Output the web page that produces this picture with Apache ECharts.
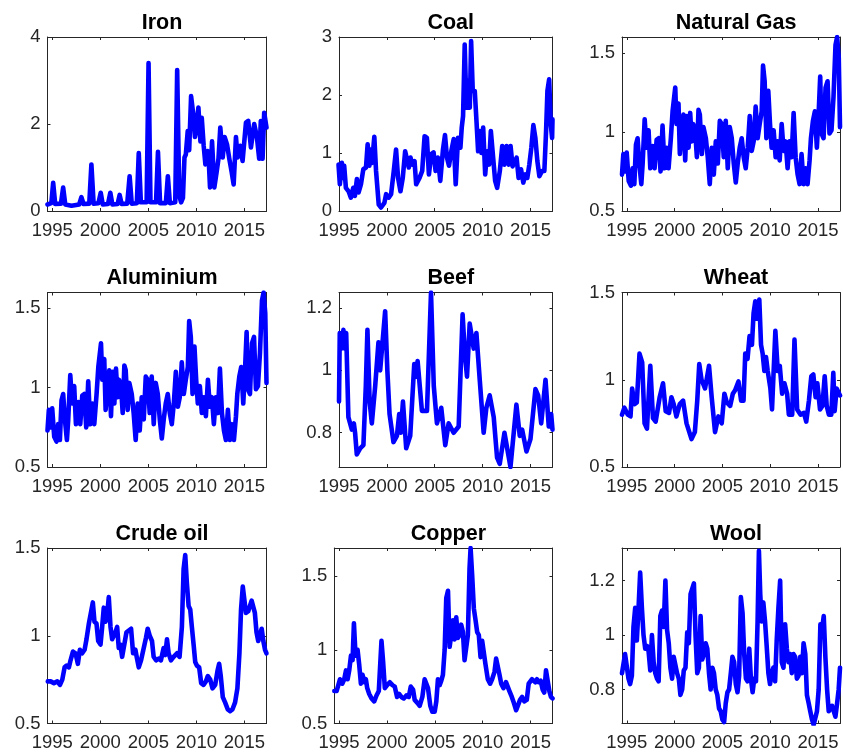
<!DOCTYPE html>
<html>
<head>
<meta charset="utf-8">
<script src="https://cdn.jsdelivr.net/npm/echarts@6.0.0/dist/echarts.min.js"></script>
<style>html,body{margin:0;padding:0;background:#fff;}#c{width:843px;height:754px;}</style>
</head>
<body>
<div id="c"></div>
<script>
// ---- data (decimal year, value) ----
const titles = ['Iron','Coal','Natural Gas','Aluminium','Beef','Wheat','Crude oil','Copper','Wool'];
const xTicks = [1995, 2000, 2005, 2010, 2015];
const yTicks = [[0,2,4],[0,1,2,3],[0.5,1,1.5],[0.5,1,1.5],[0.8,1,1.2],[0.5,1,1.5],[0.5,1,1.5],[0.5,1,1.5],[0.8,1,1.2]];
const yRanges = [[0,4],[0,3],[0.5,1.6],[0.5,1.6],[0.69,1.25],[0.5,1.5],[0.5,1.5],[0.5,1.69],[0.675,1.32]];
const xRanges = [[1994.5,2017.3],[1995.0,2017.3],[1994.5,2017.3],[1994.5,2017.3],[1995.0,2017.3],[1994.5,2017.3],[1994.5,2017.3],[1994.5,2017.3],[1994.5,2017.3]];

const iron = [[1994.5,0.15],[1994.9,0.18],[1995.09,0.65],[1995.3,0.16],[1995.9,0.17],[1996.13,0.54],[1996.35,0.15],[1997.0,0.12],[1997.8,0.15],[1998.03,0.32],[1998.25,0.16],[1998.85,0.17],[1999.07,1.07],[1999.3,0.17],[1999.8,0.18],[2000.04,0.42],[2000.25,0.15],[2000.8,0.16],[2001.04,0.42],[2001.25,0.15],[2001.8,0.16],[2002.01,0.37],[2002.22,0.16],[2002.8,0.17],[2003.05,0.8],[2003.27,0.17],[2003.8,0.18],[2004.0,1.33],[2004.22,0.2],[2004.82,0.2],[2005.02,3.4],[2005.22,0.2],[2005.8,0.2],[2006.0,1.36],[2006.22,0.18],[2006.82,0.18],[2007.03,0.8],[2007.24,0.18],[2007.8,0.2],[2008.0,3.24],[2008.22,0.35],[2008.41,0.2],[2008.6,0.3],[2008.76,1.23],[2008.9,1.3],[2009.1,1.84],[2009.25,1.4],[2009.45,2.64],[2009.69,2.2],[2009.85,1.7],[2009.97,1.84],[2010.21,2.38],[2010.42,1.6],[2010.56,2.14],[2010.76,1.5],[2010.94,1.07],[2011.18,1.38],[2011.3,1.1],[2011.42,0.54],[2011.63,1.6],[2011.87,0.54],[2012.11,0.9],[2012.3,1.2],[2012.49,1.92],[2012.74,1.23],[2012.94,1.7],[2013.19,1.53],[2013.43,1.2],[2013.67,0.9],[2013.88,0.61],[2014.12,1.7],[2014.29,1.23],[2014.57,1.5],[2014.81,1.15],[2015.16,2.03],[2015.4,2.07],[2015.68,1.46],[2016.02,2.0],[2016.3,1.7],[2016.54,1.2],[2016.71,2.07],[2016.89,1.2],[2017.06,2.26],[2017.3,1.92]];

const coal = [[1994.95,0.80],[1995.09,0.46],[1995.30,0.83],[1995.44,0.57],[1995.54,0.78],[1995.72,0.40],[1996.0,0.34],[1996.24,0.23],[1996.49,0.40],[1996.66,0.26],[1996.87,0.55],[1997.05,0.32],[1997.29,0.46],[1997.54,0.72],[1997.82,0.75],[1997.99,1.15],[1998.17,0.78],[1998.27,1.06],[1998.45,0.83],[1998.69,1.28],[1998.87,0.69],[1999.15,0.11],[1999.39,0.06],[1999.74,0.14],[1999.92,0.29],[2000.19,0.23],[2000.44,0.29],[2000.72,0.69],[2000.96,1.06],[2001.17,0.57],[2001.42,0.34],[2001.66,0.57],[2001.91,1.03],[2002.08,1.03],[2002.29,0.75],[2002.47,0.92],[2002.64,0.80],[2002.89,0.86],[2003.06,0.46],[2003.41,0.57],[2003.69,0.69],[2003.94,1.29],[2004.18,1.26],[2004.39,0.63],[2004.64,0.98],[2004.88,1.01],[2005.09,0.69],[2005.33,0.92],[2005.58,0.52],[2005.86,1.06],[2006.07,1.31],[2006.28,0.92],[2006.49,0.78],[2006.73,1.03],[2006.98,1.24],[2007.19,0.46],[2007.43,1.26],[2007.68,1.09],[2007.82,1.44],[2007.96,1.64],[2008.13,2.87],[2008.31,1.78],[2008.48,2.24],[2008.66,1.78],[2008.80,2.93],[2008.97,2.07],[2009.18,2.07],[2009.36,1.55],[2009.53,1.03],[2009.71,1.38],[2009.88,1.0],[2010.06,1.44],[2010.27,0.63],[2010.47,1.03],[2010.68,0.80],[2010.86,1.38],[2011.10,0.92],[2011.31,0.52],[2011.52,0.40],[2011.80,0.69],[2012.05,1.12],[2012.26,0.80],[2012.50,1.12],[2012.71,0.80],[2012.92,1.12],[2013.13,0.77],[2013.31,0.80],[2013.55,0.92],[2013.76,0.57],[2014.01,0.72],[2014.25,0.49],[2014.46,0.63],[2014.67,0.57],[2014.88,0.80],[2015.09,1.09],[2015.30,1.48],[2015.51,1.26],[2015.72,0.86],[2015.93,0.60],[2016.21,0.69],[2016.45,0.69],[2016.63,1.38],[2016.77,2.07],[2016.95,2.27],[2017.12,1.49],[2017.26,1.26],[2017.3,1.58]];

const naturalGas = [[1994.50,0.73],[1994.64,0.86],[1994.85,0.75],[1994.99,0.87],[1995.20,0.69],[1995.44,0.66],[1995.61,0.77],[1995.79,0.67],[1995.96,0.92],[1996.13,0.96],[1996.31,0.80],[1996.52,0.67],[1996.66,0.80],[1996.87,1.08],[1997.07,0.90],[1997.28,1.01],[1997.46,0.77],[1997.70,0.91],[1997.91,0.77],[1998.12,0.95],[1998.33,0.96],[1998.53,0.75],[1998.74,1.04],[1998.95,0.77],[1999.16,0.90],[1999.37,0.77],[1999.61,0.96],[1999.79,1.13],[2000.07,1.28],[2000.20,1.05],[2000.41,1.18],[2000.55,0.86],[2000.76,1.01],[2000.93,1.11],[2001.11,0.82],[2001.28,1.10],[2001.46,0.90],[2001.63,1.12],[2001.80,0.94],[2001.94,1.05],[2002.15,1.01],[2002.33,0.84],[2002.50,1.14],[2002.64,1.11],[2002.85,0.86],[2003.02,1.03],[2003.27,0.96],[2003.47,0.84],[2003.68,0.67],[2003.89,0.90],[2004.10,0.73],[2004.31,0.94],[2004.52,0.80],[2004.73,1.07],[2004.93,1.05],[2005.14,0.84],[2005.35,1.07],[2005.56,0.77],[2005.77,1.03],[2005.98,0.96],[2006.19,0.80],[2006.40,0.68],[2006.60,0.80],[2006.81,0.90],[2007.02,0.96],[2007.23,0.84],[2007.44,0.77],[2007.65,0.90],[2007.86,1.10],[2008.07,0.88],[2008.27,0.94],[2008.48,1.16],[2008.69,0.96],[2008.90,1.05],[2009.11,1.13],[2009.25,1.42],[2009.42,1.32],[2009.60,0.96],[2009.80,1.26],[2009.98,1.05],[2010.15,0.90],[2010.36,1.01],[2010.57,0.84],[2010.78,0.94],[2010.99,0.82],[2011.20,1.05],[2011.40,0.88],[2011.61,0.94],[2011.82,0.77],[2012.03,0.94],[2012.24,0.84],[2012.45,1.12],[2012.66,0.84],[2012.87,0.73],[2013.07,0.67],[2013.28,0.86],[2013.49,0.67],[2013.70,0.77],[2013.91,0.67],[2014.12,0.82],[2014.26,0.96],[2014.47,1.07],[2014.67,1.13],[2014.88,0.90],[2015.09,1.15],[2015.23,1.35],[2015.37,0.99],[2015.58,0.96],[2015.79,1.28],[2016.00,1.32],[2016.20,0.99],[2016.41,1.01],[2016.62,1.22],[2016.83,1.55],[2017.00,1.60],[2017.17,1.47],[2017.3,1.03]];

const aluminium = [[1994.50,0.73],[1994.64,0.86],[1994.85,0.75],[1994.99,0.87],[1995.20,0.69],[1995.44,0.66],[1995.61,0.77],[1995.79,0.67],[1995.96,0.92],[1996.13,0.96],[1996.31,0.80],[1996.52,0.67],[1996.66,0.80],[1996.87,1.08],[1997.07,0.90],[1997.28,1.01],[1997.46,0.77],[1997.70,0.91],[1997.91,0.77],[1998.12,0.95],[1998.33,0.96],[1998.53,0.75],[1998.74,1.04],[1998.95,0.77],[1999.16,0.90],[1999.37,0.77],[1999.61,0.96],[1999.79,1.13],[2000.07,1.28],[2000.20,1.05],[2000.41,1.18],[2000.55,0.86],[2000.76,1.01],[2000.93,1.11],[2001.11,0.82],[2001.28,1.10],[2001.46,0.90],[2001.63,1.12],[2001.80,0.94],[2001.94,1.05],[2002.15,1.01],[2002.33,0.84],[2002.50,1.14],[2002.64,1.11],[2002.85,0.86],[2003.02,1.03],[2003.27,0.96],[2003.47,0.84],[2003.68,0.67],[2003.89,0.90],[2004.10,0.73],[2004.31,0.94],[2004.52,0.80],[2004.73,1.07],[2004.93,1.05],[2005.14,0.84],[2005.35,1.07],[2005.56,0.77],[2005.77,1.03],[2005.98,0.96],[2006.19,0.80],[2006.40,0.68],[2006.60,0.80],[2006.81,0.90],[2007.02,0.96],[2007.23,0.84],[2007.44,0.77],[2007.65,0.90],[2007.86,1.10],[2008.07,0.88],[2008.27,0.94],[2008.48,1.16],[2008.69,0.96],[2008.90,1.05],[2009.11,1.13],[2009.25,1.42],[2009.42,1.32],[2009.60,0.96],[2009.80,1.26],[2009.98,1.05],[2010.15,0.90],[2010.36,1.01],[2010.57,0.84],[2010.78,0.94],[2010.99,0.82],[2011.20,1.05],[2011.40,0.88],[2011.61,0.94],[2011.82,0.77],[2012.03,0.94],[2012.24,0.84],[2012.45,1.12],[2012.66,0.84],[2012.87,0.73],[2013.07,0.67],[2013.28,0.86],[2013.49,0.67],[2013.70,0.77],[2013.91,0.67],[2014.12,0.82],[2014.26,0.96],[2014.47,1.07],[2014.67,1.13],[2014.88,0.90],[2015.09,1.15],[2015.23,1.35],[2015.37,0.99],[2015.58,0.96],[2015.79,1.28],[2016.00,1.32],[2016.20,0.99],[2016.41,1.01],[2016.62,1.22],[2016.83,1.55],[2017.00,1.60],[2017.17,1.47],[2017.3,1.03]];

const beef = [[1995.00,0.90],[1995.08,1.12],[1995.25,1.07],[1995.46,1.13],[1995.6,1.07],[1995.75,1.12],[1995.98,0.85],[1996.34,0.81],[1996.55,0.83],[1996.68,0.80],[1996.86,0.73],[1997.21,0.75],[1997.55,0.76],[1997.8,0.95],[1997.97,1.13],[1998.2,0.90],[1998.43,0.83],[1998.78,0.95],[1999.12,1.09],[1999.3,1.0],[1999.48,1.00],[1999.82,1.19],[2000.05,1.0],[2000.28,0.86],[2000.69,0.77],[2001.05,0.79],[2001.29,0.86],[2001.45,0.80],[2001.68,0.90],[2002.02,0.75],[2002.44,0.79],[2002.86,1.02],[2003.0,0.98],[2003.21,1.03],[2003.66,0.87],[2004.19,0.87],[2004.61,1.25],[2004.9,0.95],[2005.23,0.83],[2005.68,0.88],[2006.10,0.76],[2006.45,0.83],[2006.97,0.80],[2007.50,0.82],[2007.91,1.18],[2008.15,1.05],[2008.37,0.98],[2008.65,1.15],[2009.07,1.07],[2009.35,1.12],[2009.70,0.97],[2010.11,0.80],[2010.39,0.88],[2010.74,0.92],[2011.16,0.85],[2011.51,0.72],[2011.79,0.70],[2012.28,0.80],[2012.91,0.69],[2013.53,0.89],[2013.88,0.79],[2014.13,0.81],[2014.58,0.74],[2015.0,0.78],[2015.52,0.94],[2015.8,0.92],[2016.12,0.83],[2016.57,0.97],[2016.91,0.82],[2017.16,0.86],[2017.3,0.81]];

const wheat = [[1994.5,0.80],[1994.75,0.84],[1995.11,0.80],[1995.39,0.79],[1995.56,0.95],[1995.81,0.86],[1996.05,0.87],[1996.33,1.15],[1996.61,1.10],[1996.86,0.75],[1997.11,0.72],[1997.46,1.08],[1997.74,0.78],[1998.02,0.76],[1998.44,0.90],[1998.79,0.98],[1999.07,0.82],[1999.42,0.81],[1999.67,0.90],[1999.91,0.86],[2000.19,0.79],[2000.54,0.86],[2000.89,0.88],[2001.25,0.75],[2001.77,0.66],[2002.12,0.70],[2002.37,0.88],[2002.58,1.09],[2002.82,1.00],[2003.18,0.95],[2003.35,1.00],[2003.60,1.08],[2003.88,0.90],[2004.23,0.70],[2004.58,0.79],[2004.93,0.75],[2005.21,0.92],[2005.46,0.87],[2005.81,0.85],[2006.09,0.92],[2006.33,0.94],[2006.68,0.99],[2006.96,0.88],[2007.21,0.88],[2007.39,1.15],[2007.63,1.12],[2007.84,1.25],[2008.09,1.20],[2008.26,1.38],[2008.44,1.45],[2008.61,1.35],[2008.86,1.46],[2009.04,1.20],[2009.21,1.15],[2009.39,1.05],[2009.56,1.13],[2009.74,1.05],[2010.02,0.95],[2010.19,0.83],[2010.54,1.28],[2010.79,1.05],[2011.00,1.08],[2011.25,0.92],[2011.49,0.98],[2011.77,0.92],[2011.95,0.80],[2012.30,0.80],[2012.54,1.23],[2012.82,0.83],[2013.18,0.80],[2013.53,0.81],[2013.77,0.76],[2014.05,0.88],[2014.30,1.02],[2014.51,1.03],[2014.75,0.90],[2014.93,0.98],[2015.21,0.83],[2015.46,0.85],[2015.70,1.02],[2015.91,0.85],[2016.14,0.80],[2016.39,0.80],[2016.60,1.04],[2016.74,0.82],[2016.95,0.95],[2017.21,0.92],[2017.30,0.91]];

const crudeOil = [[1994.53,0.74],[1994.83,0.74],[1995.0,0.75],[1995.17,0.73],[1995.52,0.74],[1995.80,0.72],[1996.04,0.75],[1996.28,0.82],[1996.49,0.83],[1996.73,0.82],[1996.90,0.86],[1997.15,0.91],[1997.42,0.90],[1997.66,0.84],[1997.87,0.92],[1998.11,0.90],[1998.36,0.92],[1998.56,0.98],[1998.81,1.07],[1999.05,1.14],[1999.22,1.19],[1999.39,1.08],[1999.60,1.07],[1999.78,0.97],[2000.02,0.95],[2000.19,1.05],[2000.36,1.16],[2000.54,1.08],[2000.71,1.12],[2000.88,1.22],[2001.06,1.05],[2001.23,0.98],[2001.40,0.98],[2001.57,1.02],[2001.75,1.05],[2001.92,0.93],[2002.09,0.95],[2002.27,0.88],[2002.44,0.88],[2002.72,1.02],[2002.96,1.03],[2003.20,1.04],[2003.41,0.90],[2003.65,0.92],[2003.82,0.87],[2004.00,0.82],[2004.24,0.86],[2004.52,0.93],[2004.76,0.99],[2004.93,1.04],[2005.14,1.00],[2005.38,0.97],[2005.55,0.88],[2005.80,0.86],[2006.07,0.87],[2006.31,0.86],[2006.59,0.93],[2006.76,0.89],[2006.94,0.98],[2007.11,0.90],[2007.35,0.86],[2007.63,0.88],[2007.98,0.90],[2008.25,0.88],[2008.49,1.05],[2008.67,1.38],[2008.84,1.46],[2009.01,1.30],[2009.19,1.17],[2009.36,1.15],[2009.53,1.05],[2009.71,0.95],[2009.88,0.85],[2010.05,0.83],[2010.29,0.82],[2010.50,0.73],[2010.74,0.72],[2010.99,0.74],[2011.19,0.77],[2011.44,0.75],[2011.68,0.70],[2011.96,0.72],[2012.20,0.80],[2012.37,0.84],[2012.54,0.77],[2012.75,0.65],[2012.99,0.62],[2013.27,0.58],[2013.51,0.57],[2013.75,0.58],[2014.03,0.62],[2014.27,0.70],[2014.48,0.90],[2014.65,1.15],[2014.83,1.28],[2015.00,1.28],[2015.16,1.13],[2015.40,1.14],[2015.58,1.13],[2015.75,1.20],[2015.92,1.21],[2016.09,1.13],[2016.26,1.02],[2016.44,0.97],[2016.63,0.96],[2016.80,1.04],[2016.97,0.97],[2017.15,0.92],[2017.3,0.90]];

const copper = [[1994.50,0.72],[1994.74,0.72],[1994.92,0.76],[1995.09,0.80],[1995.33,0.77],[1995.54,0.80],[1995.72,0.86],[1995.89,0.80],[1996.06,0.86],[1996.24,0.96],[1996.41,0.93],[1996.55,1.18],[1996.72,0.96],[1996.93,1.00],[1997.10,0.90],[1997.28,0.77],[1997.45,0.83],[1997.63,0.78],[1997.80,0.80],[1997.94,0.74],[1998.15,0.70],[1998.39,0.67],[1998.67,0.65],[1998.91,0.69],[1999.15,0.72],[1999.43,1.06],[1999.60,0.92],[1999.78,0.74],[2000.02,0.76],[2000.30,0.78],[2000.58,0.76],[2000.82,0.75],[2001.06,0.68],[2001.27,0.70],[2001.51,0.68],[2001.76,0.67],[2002.03,0.69],[2002.28,0.68],[2002.49,0.75],[2002.73,0.73],[2002.90,0.66],[2003.18,0.64],[2003.42,0.62],[2003.70,0.68],[2003.94,0.80],[2004.12,0.81],[2004.29,0.74],[2004.53,0.62],[2004.74,0.58],[2004.99,0.58],[2005.16,0.65],[2005.33,0.80],[2005.51,0.76],[2005.68,0.79],[2005.85,0.83],[2006.03,1.00],[2006.20,1.35],[2006.38,1.40],[2006.55,1.02],[2006.72,1.10],[2006.90,1.20],[2007.07,1.07],[2007.24,1.22],[2007.42,1.08],[2007.59,1.10],[2007.76,1.17],[2007.94,1.12],[2008.11,0.93],[2008.28,0.93],[2008.46,1.10],[2008.63,1.55],[2008.74,1.69],[2008.91,1.50],[2009.08,1.28],[2009.26,1.20],[2009.43,1.12],[2009.60,1.10],[2009.78,0.95],[2009.95,1.06],[2010.13,1.06],[2010.30,0.90],[2010.54,0.80],[2010.78,0.77],[2010.99,0.80],[2011.24,0.85],[2011.41,0.94],[2011.58,0.93],[2011.76,0.83],[2011.94,0.77],[2012.18,0.74],[2012.44,0.78],[2012.63,0.79],[2012.80,0.72],[2013.05,0.68],[2013.26,0.64],[2013.50,0.59],[2013.67,0.60],[2013.91,0.66],[2014.13,0.68],[2014.36,0.65],[2014.61,0.66],[2014.81,0.77],[2014.99,0.77],[2015.16,0.80],[2015.33,0.81],[2015.51,0.78],[2015.68,0.80],[2015.85,0.78],[2016.06,0.79],[2016.27,0.73],[2016.44,0.71],[2016.62,0.86],[2016.79,0.86],[2016.97,0.72],[2017.14,0.68],[2017.3,0.67]];

const wool = [[1994.5,0.86],[1994.68,0.86],[1994.82,0.93],[1995.00,0.93],[1995.18,0.84],[1995.35,0.82],[1995.53,0.85],[1995.70,1.03],[1995.88,1.10],[1996.05,0.98],[1996.23,1.10],[1996.40,1.23],[1996.58,1.10],[1996.75,1.00],[1996.93,0.95],[1997.11,0.96],[1997.28,0.94],[1997.46,0.87],[1997.63,1.00],[1997.81,0.90],[1997.98,0.86],[1998.16,0.84],[1998.33,0.83],[1998.51,1.07],[1998.68,1.09],[1998.86,1.03],[1999.04,1.20],[1999.21,1.02],[1999.39,0.97],[1999.56,0.88],[1999.74,0.84],[1999.91,0.92],[2000.09,0.92],[2000.26,0.86],[2000.44,0.84],[2000.61,0.78],[2000.79,0.80],[2000.96,0.87],[2001.14,0.88],[2001.32,1.01],[2001.49,0.97],[2001.67,1.15],[2001.84,1.17],[2002.02,1.19],[2002.19,1.00],[2002.37,0.86],[2002.54,0.88],[2002.72,1.07],[2002.89,0.91],[2003.07,0.93],[2003.25,0.97],[2003.42,0.95],[2003.60,0.86],[2003.77,0.80],[2003.95,0.88],[2004.12,0.86],[2004.30,0.80],[2004.47,0.78],[2004.65,0.73],[2004.82,0.72],[2005.00,0.69],[2005.18,0.68],[2005.35,0.75],[2005.53,0.79],[2005.70,0.80],[2005.88,0.86],[2006.05,0.92],[2006.23,0.90],[2006.40,0.82],[2006.58,0.79],[2006.75,0.85],[2006.93,1.14],[2007.11,1.08],[2007.28,0.93],[2007.46,0.84],[2007.63,0.83],[2007.81,0.95],[2007.98,0.84],[2008.16,0.79],[2008.33,0.84],[2008.51,0.83],[2008.68,1.05],[2008.82,1.31],[2008.96,1.15],[2009.11,1.05],[2009.28,1.12],[2009.46,1.05],[2009.63,0.96],[2009.81,0.86],[2009.98,0.82],[2010.16,0.86],[2010.33,0.88],[2010.51,0.83],[2010.68,0.98],[2010.86,1.10],[2011.04,1.20],[2011.21,0.90],[2011.39,0.88],[2011.56,1.04],[2011.74,0.95],[2011.91,0.90],[2012.09,0.93],[2012.26,0.86],[2012.44,0.93],[2012.61,0.92],[2012.79,0.84],[2012.96,0.85],[2013.14,0.92],[2013.32,0.86],[2013.49,0.97],[2013.67,0.93],[2013.84,0.78],[2014.02,0.75],[2014.19,0.72],[2014.37,0.69],[2014.54,0.67],[2014.72,0.67],[2014.89,0.72],[2015.07,0.80],[2015.25,1.04],[2015.42,1.02],[2015.60,1.07],[2015.77,0.92],[2015.95,0.80],[2016.12,0.72],[2016.30,0.72],[2016.47,0.74],[2016.65,0.74],[2016.82,0.70],[2017.00,0.75],[2017.16,0.80],[2017.3,0.88]];

const seriesData = [iron, coal, naturalGas, aluminium, beef, wheat, crudeOil, copper, wool];

// ---- layout (panel boxes in px) ----
const boxes = [
  [47.5, 37, 219, 174], [339, 37, 213.5, 174], [622, 37, 218, 174],
  [47.5, 292.5, 219, 174.5], [339, 292.5, 213.5, 174.5], [622, 292.5, 218, 174.5],
  [47.5, 548, 219, 175.5], [334.3, 548, 218.2, 175.5], [622, 548, 218, 175.5]
];
const axisColor = '#262626';
const FONT = 'Liberation Sans, Arial, Helvetica, sans-serif';

const grid = [], xAxis = [], yAxis = [], series = [];
boxes.forEach((b, i) => {
  grid.push({left: b[0], top: b[1], width: b[2], height: b[3], containLabel: false});
  const lineCfg = {show: true, onZero: false, lineStyle: {color: axisColor, width: 1}};
  xAxis.push({type: 'value', gridIndex: i, position: 'bottom', min: xRanges[i][0], max: xRanges[i][1],
    axisLine: lineCfg, splitLine: {show: false},
    axisTick: {show: true, inside: true, length: 3, customValues: xTicks, lineStyle: {color: axisColor}},
    axisLabel: {show: true, customValues: xTicks, margin: 10, color: axisColor, fontSize: 18.5, fontFamily: FONT, hideOverlap: false,
      formatter: v => String(v)}});
  xAxis.push({type: 'value', gridIndex: i, position: 'top', min: xRanges[i][0], max: xRanges[i][1],
    axisLine: lineCfg, splitLine: {show: false},
    axisTick: {show: true, inside: true, length: 3, customValues: xTicks, lineStyle: {color: axisColor}},
    axisLabel: {show: false}});
  yAxis.push({type: 'value', gridIndex: i, position: 'left', min: yRanges[i][0], max: yRanges[i][1],
    axisLine: lineCfg, splitLine: {show: false},
    axisTick: {show: true, inside: true, length: 3, customValues: yTicks[i], lineStyle: {color: axisColor}},
    axisLabel: {show: true, customValues: yTicks[i], margin: 7, color: axisColor, fontSize: 18.5, fontFamily: FONT}});
  yAxis.push({type: 'value', gridIndex: i, position: 'right', min: yRanges[i][0], max: yRanges[i][1],
    axisLine: lineCfg, splitLine: {show: false},
    axisTick: {show: true, inside: true, length: 3, customValues: yTicks[i], lineStyle: {color: axisColor}},
    axisLabel: {show: false}});
  series.push({type: 'line', xAxisIndex: 2 * i, yAxisIndex: 2 * i, data: seriesData[i],
    showSymbol: false, symbol: 'none', clip: true, silent: true,
    lineStyle: {color: '#0000ff', width: 4.6, join: 'round', cap: 'round'}});
});

const chart = echarts.init(document.getElementById('c'), null, {renderer: 'canvas'});
chart.setOption({animation: false, backgroundColor: '#fff', grid, xAxis, yAxis, series,
  title: titles.map((t, i) => ({text: t, left: boxes[i][0] + boxes[i][2] / 2, top: boxes[i][1] - 30, textAlign: 'center',
    textStyle: {fontFamily: FONT, fontWeight: 'bold', fontSize: 21.5, color: '#000'}}))
});
</script>
</body>
</html>
